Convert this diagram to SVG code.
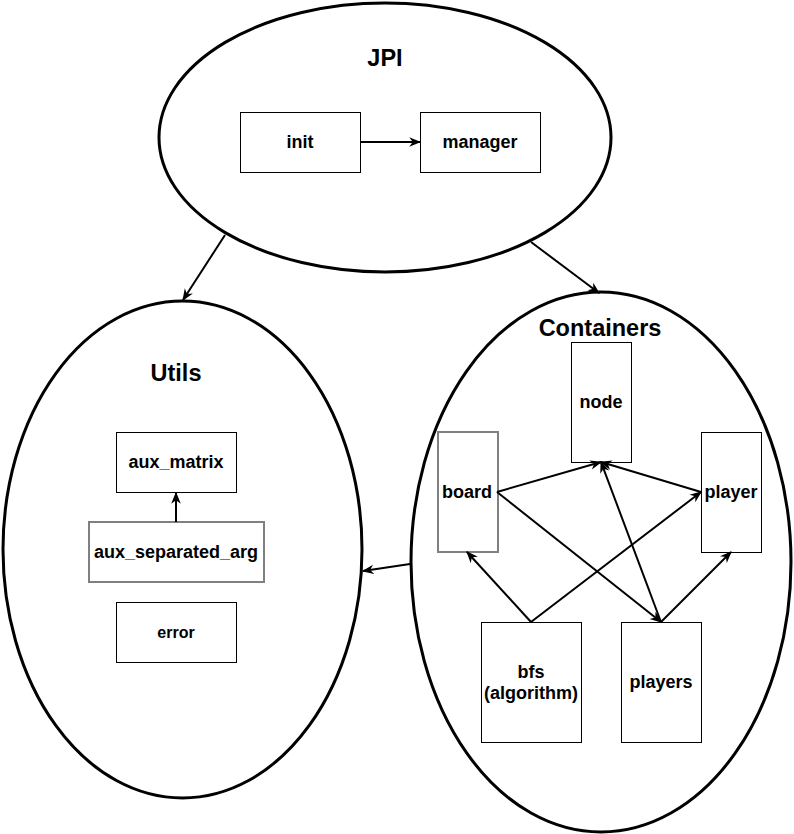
<svg xmlns="http://www.w3.org/2000/svg" width="794" height="834" viewBox="0 0 794 834">
<style>
.group{fill:#fff;stroke:#000;stroke-width:3}
.box{fill:#fff;stroke:#000;stroke-width:1}
.gbox{fill:#fff;stroke:#808080;stroke-width:2}
.title{font-family:"Liberation Sans",Arial,sans-serif;font-weight:bold;font-size:23.5px;text-anchor:middle;dominant-baseline:central;fill:#000}
.lbl{font-family:"Liberation Sans",Arial,sans-serif;font-weight:bold;font-size:18px;text-anchor:middle;dominant-baseline:central;fill:#000}
.edge{stroke:#000;stroke-width:2;fill:none;marker-end:url(#arr)}
</style>
<defs>
<marker id="arr" viewBox="0 0 10 10" refX="9" refY="5" markerWidth="12" markerHeight="12" markerUnits="userSpaceOnUse" orient="auto">
<path d="M0,1 L10,5 L0,9 L3,5 z" fill="#000"/>
</marker>
</defs>
<rect width="794" height="834" fill="#fff"/>
<g id="JPI">
<ellipse class="group" cx="385" cy="137.5" rx="226" ry="134.5"/>
<text class="title" x="385" y="58">JPI</text>
</g>
<g id="Utils">
<ellipse class="group" cx="182.5" cy="549.5" rx="179.5" ry="248.5"/>
<text class="title" x="176" y="373">Utils</text>
</g>
<g id="Containers">
<ellipse class="group" cx="601" cy="562" rx="190" ry="270"/>
<text class="title" x="600" y="328">Containers</text>
</g>
<g id="init"><rect class="box" x="240.5" y="112.5" width="120" height="60"/><text class="lbl" x="300" y="142">init</text></g>
<g id="manager"><rect class="box" x="420.5" y="112.5" width="120" height="60"/><text class="lbl" x="480" y="142">manager</text></g>
<g id="aux_matrix"><rect class="box" x="116.5" y="432.5" width="120" height="60"/><text class="lbl" x="176" y="462">aux_matrix</text></g>
<g id="aux_separated_arg"><rect class="gbox" x="89" y="522" width="175" height="60"/><text class="lbl" x="176" y="552">aux_separated_arg</text></g>
<g id="error"><rect class="box" x="116.5" y="602.5" width="120" height="60"/><text class="lbl" x="176" y="632" style="font-size:16px">error</text></g>
<g id="node"><rect class="box" x="571.5" y="342.5" width="60" height="120"/><text class="lbl" x="601" y="402">node</text></g>
<g id="board"><rect class="gbox" x="438" y="432" width="60" height="120"/><text class="lbl" x="467" y="492">board</text></g>
<g id="player"><rect class="box" x="701.5" y="432.5" width="60" height="120"/><text class="lbl" x="731" y="492">player</text></g>
<g id="bfs"><rect class="box" x="481.5" y="622.5" width="100" height="120"/><text class="lbl" x="531" y="672">bfs</text><text class="lbl" x="531" y="693">(algorithm)</text></g>
<g id="players"><rect class="box" x="621.5" y="622.5" width="80" height="120"/><text class="lbl" x="661" y="682">players</text></g>
<g id="connectors">
<line class="edge" x1="361" y1="142" x2="420" y2="142"/>
<line class="edge" x1="225" y1="235" x2="183" y2="300"/>
<line class="edge" x1="531" y1="242" x2="599" y2="293"/>
<line class="edge" x1="410" y1="564" x2="363" y2="571"/>
<line class="edge" x1="176" y1="522" x2="176" y2="493"/>
<line class="edge" x1="497" y1="492" x2="601" y2="462"/>
<line class="edge" x1="497" y1="492" x2="661" y2="622"/>
<line class="edge" x1="701" y1="492" x2="601" y2="462"/>
<line class="edge" x1="661" y1="622" x2="601" y2="462"/>
<line class="edge" x1="531" y1="622" x2="467" y2="552"/>
<line class="edge" x1="531" y1="622" x2="701" y2="492"/>
<line class="edge" x1="661" y1="622" x2="731" y2="552"/>
</g>
</svg>
